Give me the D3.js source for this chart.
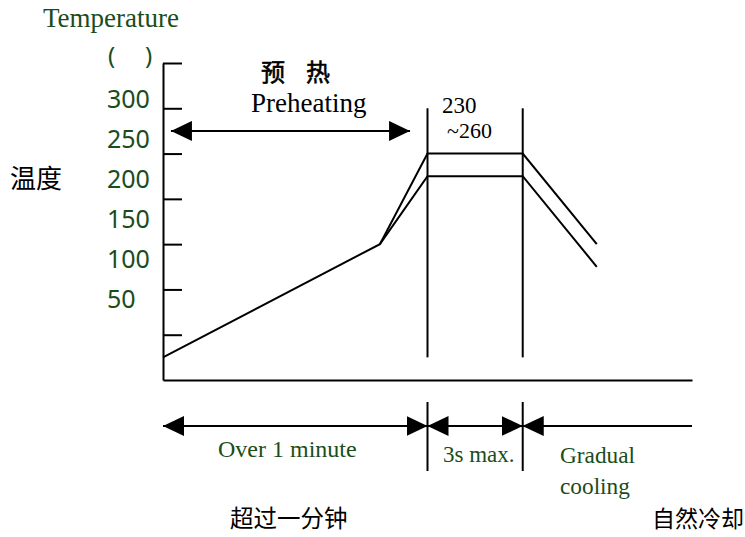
<!DOCTYPE html>
<html>
<head>
<meta charset="utf-8">
<script src="https://cdn.jsdelivr.net/npm/d3@7"></script>
<style>
  body { margin: 0; background: #fff; }
  svg { display: block; }
</style>
</head>
<body>
<div id="chart"></div>
<script>
// reflow soldering profile
const tempTicks = [50, 100, 150, 200, 250, 300, 350];
const tempLabels = [300, 250, 200, 150, 100, 50];
// time in arbitrary units (0..100 across the x axis)
const upperTime = [0, 41, 50, 68, 82];
const upperTemp = [25, 150, 250, 250, 150];
const lowerTime = [41, 50, 68, 82];
const lowerTemp = [150, 225, 225, 125];
const phaseBounds = [50, 68];          // vertical lines
const phaseTempRange = [25, 300];
const preheatArrow = [1.5, 46.7];      // time span, drawn at 275 degrees
const preheatArrowTemp = 275;
const phaseArrows = [
    { from: 0, to: 50, heads: ["start", "end"] },
    { from: 50, to: 68, heads: ["start", "end"] },
    { from: 68, to: 100, heads: ["start"] }
];

const width = 745, height = 537;
const green = "#1a4d1a";
const serif = "'Liberation Serif', 'Times New Roman', serif";
const sans = "'Noto Sans', sans-serif";
const cjk = "'Noto Sans CJK SC', sans-serif";

const x = d3.scaleLinear().domain([0, 100]).range([163, 692]);
const y = d3.scaleLinear().domain([0, 350]).range([380, 63]);
// the printed numbers sit on their own spacing, not on the ticks
const yLabel = d3.scaleLinear().domain([50, 300]).range([308, 108]);

const svg = d3.select("#chart").append("svg")
    .attr("width", width)
    .attr("height", height);

const defs = svg.append("defs");
defs.append("marker")
    .attr("id", "head")
    .attr("markerUnits", "userSpaceOnUse")
    .attr("viewBox", "0 0 21 20")
    .attr("refX", 21)
    .attr("refY", 10)
    .attr("markerWidth", 21)
    .attr("markerHeight", 20)
    .attr("orient", "auto-start-reverse")
    .append("path")
    .attr("d", "M0,0L21,10L0,20Z")
    .attr("fill", "#000");

// axes
svg.append("g")
    .attr("transform", `translate(${x(0)},0)`)
    .call(d3.axisRight(y).tickValues(tempTicks).tickSize(19).tickSizeOuter(0).tickFormat(""))
    .call(g => g.selectAll("path, line").attr("stroke", "#000").attr("stroke-width", 2));

svg.append("g")
    .attr("transform", `translate(0,${y(0)})`)
    .call(d3.axisBottom(x).tickValues([]).tickSizeOuter(0))
    .call(g => g.select("path").attr("stroke", "#000").attr("stroke-width", 2));

svg.append("g")
    .selectAll("text")
    .data(tempLabels)
    .join("text")
    .attr("x", 107)
    .attr("y", d => yLabel(d))
    .attr("font-family", sans)
    .attr("font-size", 25)
    .attr("fill", green)
    .text(d => d);

// profile lines
const line = d3.line().x(d => x(d[0])).y(d => y(d[1]));
const profiles = [
    d3.zip(upperTime, upperTemp),
    d3.zip(lowerTime, lowerTemp)
];
svg.append("g")
    .selectAll("path")
    .data(profiles)
    .join("path")
    .attr("d", line)
    .attr("fill", "none")
    .attr("stroke", "#000")
    .attr("stroke-width", 2);

svg.append("g")
    .selectAll("line")
    .data(phaseBounds)
    .join("line")
    .attr("x1", d => x(d)).attr("x2", d => x(d))
    .attr("y1", y(phaseTempRange[1])).attr("y2", y(phaseTempRange[0]))
    .attr("stroke", "#000")
    .attr("stroke-width", 2);

// preheating arrow
svg.append("line")
    .attr("x1", x(preheatArrow[0])).attr("x2", x(preheatArrow[1]))
    .attr("y1", y(preheatArrowTemp)).attr("y2", y(preheatArrowTemp))
    .attr("stroke", "#000")
    .attr("stroke-width", 2)
    .attr("marker-start", "url(#head)")
    .attr("marker-end", "url(#head)");

// phase arrows under the axis
const arrowY = 426;
svg.append("g")
    .selectAll("line")
    .data(phaseArrows)
    .join("line")
    .attr("x1", d => x(d.from)).attr("x2", d => x(d.to))
    .attr("y1", arrowY).attr("y2", arrowY)
    .attr("stroke", "#000")
    .attr("stroke-width", 2)
    .attr("marker-start", d => d.heads.includes("start") ? "url(#head)" : null)
    .attr("marker-end", d => d.heads.includes("end") ? "url(#head)" : null);

svg.append("g")
    .selectAll("line")
    .data(phaseBounds)
    .join("line")
    .attr("x1", d => x(d)).attr("x2", d => x(d))
    .attr("y1", 402).attr("y2", 471)
    .attr("stroke", "#000")
    .attr("stroke-width", 2);

// labels
const labels = [
    { t: "Temperature", x: 43, y: 27, f: serif, s: 27, c: green },
    { t: "(", x: 108, y: 64, f: sans, s: 24, c: green },
    { t: ")", x: 145, y: 64, f: sans, s: 24, c: green },
    { t: "温度", x: 10, y: 188, f: cjk, s: 26, c: "#000" },
    { t: "预", x: 261, y: 81, f: cjk, s: 24, c: "#000", k: 0.6 },
    { t: "热", x: 306, y: 81, f: cjk, s: 24, c: "#000", k: 0.6 },
    { t: "Preheating", x: 251, y: 112, f: serif, s: 27, c: "#000" },
    { t: "230", x: 442, y: 113, f: serif, s: 23, c: "#000" },
    { t: "~260", x: 447, y: 138, f: serif, s: 22, c: "#000" },
    { t: "Over 1 minute", x: 218, y: 457, f: serif, s: 24, c: green },
    { t: "3s max.", x: 443, y: 462, f: serif, s: 23, c: green },
    { t: "Gradual", x: 560, y: 463, f: serif, s: 23.3, c: green },
    { t: "cooling", x: 560, y: 494, f: serif, s: 23.3, c: green },
    { t: "超过一分钟", x: 230, y: 527, f: cjk, s: 23.5, c: "#000" },
    { t: "自然冷却", x: 652, y: 527, f: cjk, s: 23, c: "#000" }
];
svg.append("g")
    .selectAll("text")
    .data(labels)
    .join("text")
    .attr("x", d => d.x)
    .attr("y", d => d.y)
    .attr("font-family", d => d.f)
    .attr("font-size", d => d.s)
    .attr("fill", d => d.c)
    .attr("stroke", d => d.k ? d.c : null)
    .attr("stroke-width", d => d.k || null)
    .text(d => d.t);
</script>
</body>
</html>
